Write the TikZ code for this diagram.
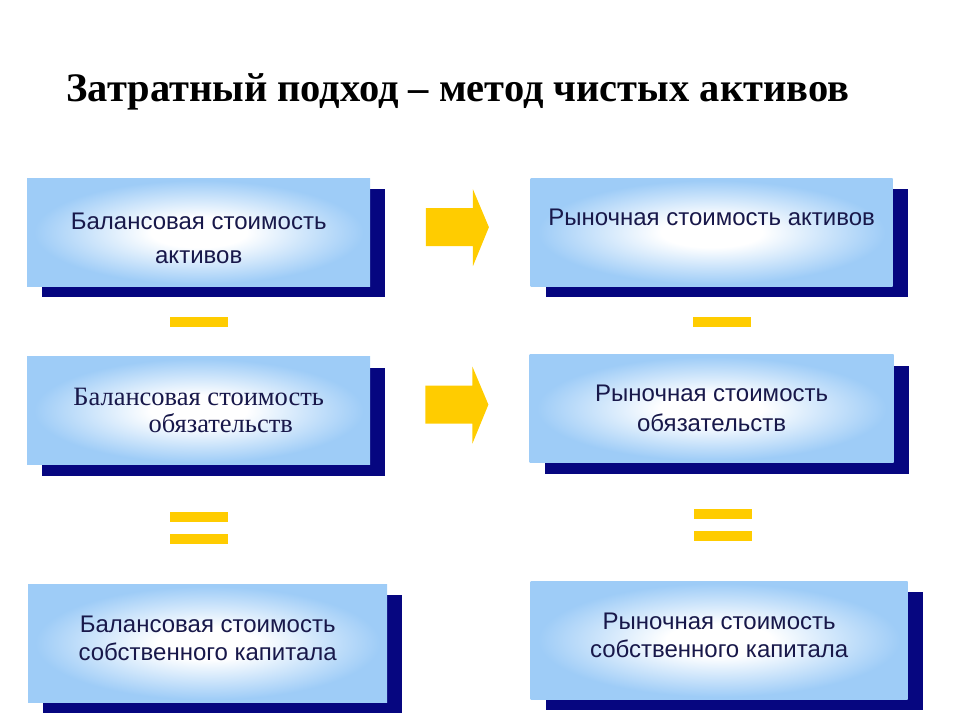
\documentclass[tikz,border=0pt]{standalone}
\usepackage{fontspec}
\setmainfont{Liberation Serif}
\setsansfont{Liberation Sans}
\usetikzlibrary{positioning,shadows,calc}
\definecolor{BoxBlue}{RGB}{158,204,247}
\definecolor{ShadowNavy}{RGB}{6,6,128}
\definecolor{TextNavy}{RGB}{24,24,74}
\definecolor{SignYellow}{RGB}{255,204,0}
\pgfdeclareradialshading{boxglow}{\pgfpoint{0bp}{0bp}}{color(0bp)=(white); color(7bp)=(white); color(24bp)=(BoxBlue); color(50bp)=(BoxBlue)}

\begin{document}
\begin{tikzpicture}[
    x=1pt, y=-1pt,
    box/.style={rectangle, shade, shading=boxglow, inner sep=0pt,
                minimum width=343pt, minimum height=108pt, align=center,
                font=\sffamily\fontsize{24}{30}\selectfont, text=TextNavy,
                drop shadow={fill=ShadowNavy, opacity=1,
                             shadow xshift=15pt, shadow yshift=-11pt}},
    bar/.style={rectangle, fill=SignYellow, inner sep=0pt,
                minimum width=58pt, minimum height=10pt},
    blockarr/.style={fill=SignYellow},
]
\useasboundingbox (0,0) rectangle (960,720);

% ── Title ──
\node[font=\bfseries\fontsize{40.5}{44}\selectfont, anchor=base] (title) at (458,101)
    {Затратный подход – метод чистых активов};

% ── Book values (left column) ──
\node[box, anchor=north west, font=\sffamily\fontsize{24}{34}\selectfont] (lb1) at (27,178)
    {\rule{0pt}{29pt}Балансовая стоимость\\активов};
\node[box, below=70pt of lb1, font=\rmfamily\fontsize{26.5}{27}\selectfont] (lb2)
    {Балансовая стоимость\\\hspace*{44pt}обязательств};
\node[box, anchor=north west, minimum width=359pt, minimum height=118pt,
      font=\sffamily\fontsize{24}{28}\selectfont] (lb3)
    at ([xshift=1pt, yshift=-119pt]lb2.south west)
    {Балансовая стоимость\\собственного капитала\rule[-10pt]{0pt}{10pt}};

% ── Market values (right column) ──
\node[box, right=160pt of lb1, minimum width=362pt] (rb1) {Рыночная стоимость активов\\~};
\node[box, below=68pt of rb1, minimum width=364pt] (rb2) {Рыночная стоимость\\обязательств};
\node[box, anchor=north west, minimum width=377pt, minimum height=118pt,
      font=\sffamily\fontsize{24}{28}\selectfont] (rb3)
    at ([xshift=1pt, yshift=-118pt]rb2.south west)
    {Рыночная стоимость\\собственного капитала\rule[-10pt]{0pt}{10pt}};

% ── Minus signs ──
\node[bar, below=30pt of lb1] (lminus) {};
\node[bar, below=30pt of rb1, xshift=10pt] (rminus) {};

% ── Equal signs ──
\node[bar, below=47pt of lb2] (leqtop) {};
\node[bar, below=12pt of leqtop] (leqbot) {};
\node[bar, below=46pt of rb2, xshift=11pt] (reqtop) {};
\node[bar, below=12pt of reqtop] (reqbot) {};

% ── Yellow block arrows between the columns ──
\coordinate (a1) at ($(lb1.east)!0.5!(rb1.west)+(7.5,-5)$);
\coordinate (a2) at ($(lb2.east)!0.5!(rb2.west)+(7.5,-5)$);
\fill[blockarr, shift={(a1)}] (-32,-19) -- (15,-19) -- (15,-38) -- (31,0)
    -- (15,39) -- (15,19) -- (-32,19) -- cycle;
\fill[blockarr, shift={(a2)}] (-32,-19) -- (15,-19) -- (15,-38) -- (31,0)
    -- (15,39) -- (15,19) -- (-32,19) -- cycle;

\end{tikzpicture}
\end{document}
